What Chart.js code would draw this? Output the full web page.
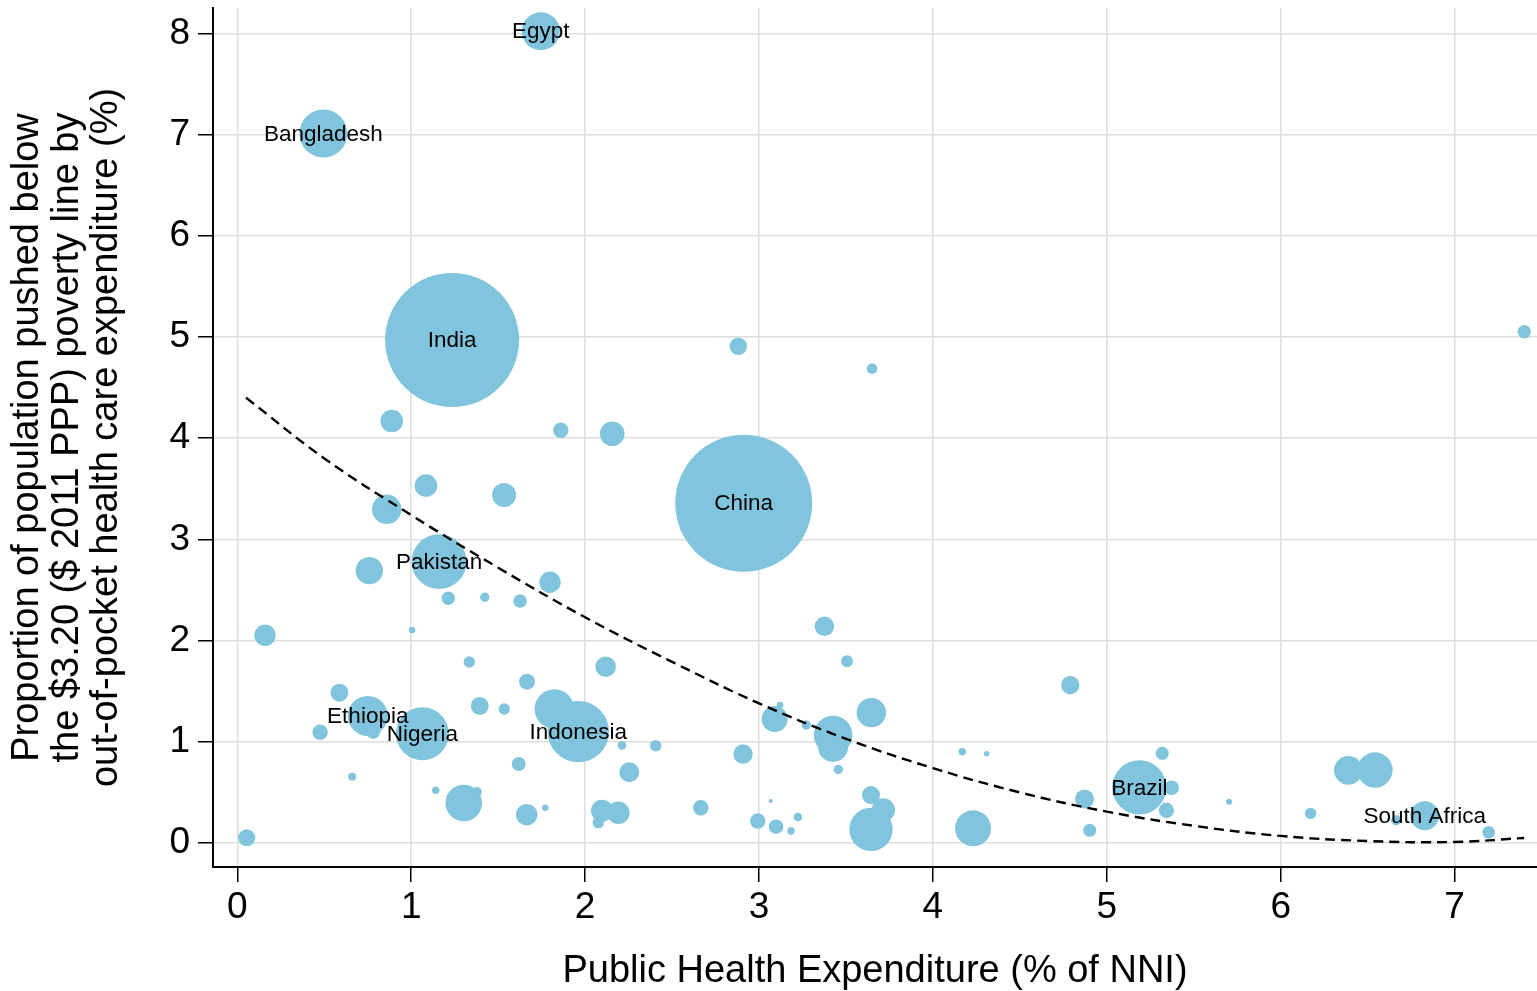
<!DOCTYPE html>
<html>
<head>
<meta charset="utf-8">
<script src="https://cdn.jsdelivr.net/npm/chart.js@4.4.1/dist/chart.umd.min.js"></script>
<style>
  html, body { margin: 0; padding: 0; background: #fff; }
  #wrap { width: 1537px; height: 991px; }
</style>
</head>
<body>
<div id="wrap"><canvas id="c" width="1537" height="991"></canvas></div>
<script>
// ---- Data ----
// Public health expenditure (% of NNI)
const healthExp = [
  1.745, 0.495, 1.235, 2.912, 2.881, 3.650, 7.401, 0.888, 1.860, 2.156,
  1.085, 1.534, 0.859, 1.160, 0.759, 1.798, 1.213, 1.423, 1.626, 0.159,
  1.005, 1.334, 1.666, 2.118, 3.376, 3.506, 4.790, 0.587, 0.750, 0.782,
  0.476, 1.064, 1.394, 1.535, 1.823, 1.961, 2.212, 2.406, 1.618, 2.254,
  0.660, 1.141, 1.302, 1.377, 1.664, 1.771, 2.097, 2.191, 2.076, 0.054,
  2.908, 2.665, 2.993, 3.098, 3.067, 3.224, 3.184, 3.090, 3.121, 3.272,
  3.426, 3.426, 3.456, 3.646, 3.644, 3.644, 3.715, 4.231, 4.169, 4.309,
  4.872, 4.902, 5.187, 5.319, 5.373, 5.343, 5.703, 6.172, 6.389, 6.542,
  6.828, 6.664, 7.196
];
// Proportion pushed below $3.20 poverty line (%)
const impoverished = [
  8.02, 7.01, 4.97, 3.357, 4.908, 4.687, 5.052, 4.17, 4.078, 4.044,
  3.531, 3.439, 3.297, 2.780, 2.691, 2.576, 2.418, 2.428, 2.391, 2.052,
  2.105, 1.789, 1.594, 1.742, 2.141, 1.795, 1.561, 1.485, 1.255, 1.100,
  1.094, 1.080, 1.354, 1.324, 1.324, 1.100, 0.965, 0.961, 0.781, 0.699,
  0.655, 0.521, 0.395, 0.504, 0.280, 0.349, 0.319, 0.299, 0.201, 0.052,
  0.879, 0.349, 0.217, 0.161, 0.415, 0.257, 0.119, 1.225, 1.364, 1.166,
  1.067, 0.949, 0.728, 1.288, 0.135, 0.474, 0.326, 0.145, 0.902, 0.882,
  0.435, 0.125, 0.550, 0.886, 0.546, 0.323, 0.408, 0.293, 0.718, 0.721,
  0.270, 0.224, 0.106
];
// Population (millions)
const population = [
  107, 170, 1326, 1386, 22.4, 8.3, 13.3, 37.7, 17.5, 44.7,
  37.7, 42.5, 63.8, 223, 55.4, 33.8, 13.3, 6.5, 13.3, 33.8,
  3.2, 9.6, 18.9, 31.3, 27.8, 10.6, 25, 23.9, 118, 14.5,
  17.5, 207, 23.9, 9.6, 116, 278, 5.5, 9.6, 14.5, 29.5,
  4.7, 4.0, 99, 7.4, 33.8, 3.2, 35.7, 37.7, 9.6, 21.8,
  27.8, 17.5, 17.5, 15.7, 1.2, 5.5, 4.0, 49.9, 3.2, 6.5,
  110, 66.5, 6.5, 63.8, 139, 23.9, 40.4, 95.7, 4.0, 2.2,
  26.7, 12.5, 218, 12.5, 15.7, 17.5, 2.7, 9.6, 60.4, 92.5,
  62.1, 7.4, 11.7
];
// Country labels ('' = unlabeled)
const countryLabels = [
  'Egypt', 'Bangladesh', 'India', 'China', '', '', '', '', '', '',
  '', '', '', 'Pakistan', '', '', '', '', '', '',
  '', '', '', '', '', '', '', '', 'Ethiopia', '',
  '', 'Nigeria', '', '', '', 'Indonesia', '', '', '', '',
  '', '', '', '', '', '', '', '', '', '',
  '', '', '', '', '', '', '', '', '', '',
  '', '', '', '', '', '', '', '', '', '',
  '', '', 'Brazil', '', '', '', '', '', '', '',
  'South Africa', '', ''
];
// Fitted (quadratic) trend line
const fitX = [0.05, 0.5, 1, 1.5, 2, 2.5, 3, 3.5, 4, 4.5, 5, 5.5, 6, 6.5, 7, 7.40];
const fitY = [4.40, 3.80, 3.24, 2.72, 2.23, 1.79, 1.38, 1.03, 0.74, 0.50, 0.31, 0.17, 0.07, 0.02, 0.01, 0.05];
// Tick labels
const xTicks = [0, 1, 2, 3, 4, 5, 6, 7];
const yTicks = [0, 1, 2, 3, 4, 5, 6, 7, 8];
const xTitle = 'Public Health Expenditure (% of NNI)';
const yTitle = [
  'Proportion of population pushed below',
  'the $3.20 ($ 2011 PPP) poverty line by',
  'out-of-pocket health care expenditure (%)'
];

// ---- Build chart ----
const FONT = "'Liberation Sans', Arial, Helvetica, sans-serif";
const BUBBLE_COLOR = 'rgb(128,196,222)';
const R_PER_SQRT_POP = 1.84;

const bubbleData = healthExp.map((x, i) => ({
  x: x, y: impoverished[i], r: R_PER_SQRT_POP * Math.sqrt(population[i])
}));
const fitData = fitX.map((x, i) => ({ x: x, y: fitY[i] }));

const labelPlugin = {
  id: 'countryLabels',
  afterDatasetsDraw(chart) {
    const meta = chart.getDatasetMeta(1);
    const ctx = chart.ctx;
    ctx.save();
    ctx.font = '22.5px ' + FONT;
    ctx.fillStyle = '#000';
    ctx.textAlign = 'center';
    ctx.textBaseline = 'middle';
    meta.data.forEach((el, i) => {
      const t = countryLabels[i];
      if (t) ctx.fillText(t, el.x, el.y + 1);
    });
    ctx.restore();
  }
};

new Chart(document.getElementById('c'), {
  type: 'bubble',
  data: {
    datasets: [
      {
        type: 'line',
        data: fitData,
        borderColor: '#000',
        borderWidth: 2.4,
        borderDash: [10, 6],
        pointRadius: 0,
        fill: false,
        tension: 0.4,
        order: 0
      },
      {
        type: 'bubble',
        data: bubbleData,
        backgroundColor: BUBBLE_COLOR,
        borderWidth: 0,
        hoverBorderWidth: 0,
        order: 1
      }
    ]
  },
  options: {
    responsive: false,
    animation: false,
    events: [],
    layout: { autoPadding: false, padding: { top: 8, right: 0, left: 0, bottom: 0 } },
    plugins: { legend: { display: false }, tooltip: { enabled: false } },
    scales: {
      x: {
        type: 'linear',
        position: 'bottom',
        min: -0.14,
        max: 7.474,
        afterBuildTicks: (s) => { s.ticks = xTicks.map(v => ({ value: v })); },
        afterFit: (s) => { s.height = 124; s.paddingLeft = 0; s.paddingRight = 0; },
        grid: { color: '#dedede', lineWidth: 1.5, tickLength: 15, tickColor: '#000', tickWidth: 1.5 },
        border: { display: true, color: '#000', width: 2 },
        ticks: { color: '#000', font: { family: FONT, size: 37 }, padding: 4, maxRotation: 0, autoSkip: false },
        title: { display: true, text: xTitle, color: '#000', font: { family: FONT, size: 38 }, padding: { top: 0, bottom: -3 } }
      },
      y: {
        type: 'linear',
        position: 'left',
        min: -0.237,
        max: 8.25,
        afterBuildTicks: (s) => { s.ticks = yTicks.map(v => ({ value: v })); },
        afterFit: (s) => { s.width = 213; s.paddingTop = 0; s.paddingBottom = 0; },
        grid: { color: '#dedede', lineWidth: 1.5, tickLength: 15, tickColor: '#000', tickWidth: 1.5 },
        border: { display: true, color: '#000', width: 2 },
        ticks: { color: '#000', font: { family: FONT, size: 37 }, padding: 8, autoSkip: false },
        title: { display: true, text: yTitle, color: '#000', font: { family: FONT, size: 38, lineHeight: 1.04 }, padding: { top: 8, bottom: 0 } }
      }
    }
  },
  plugins: [labelPlugin]
});
</script>
</body>
</html>
